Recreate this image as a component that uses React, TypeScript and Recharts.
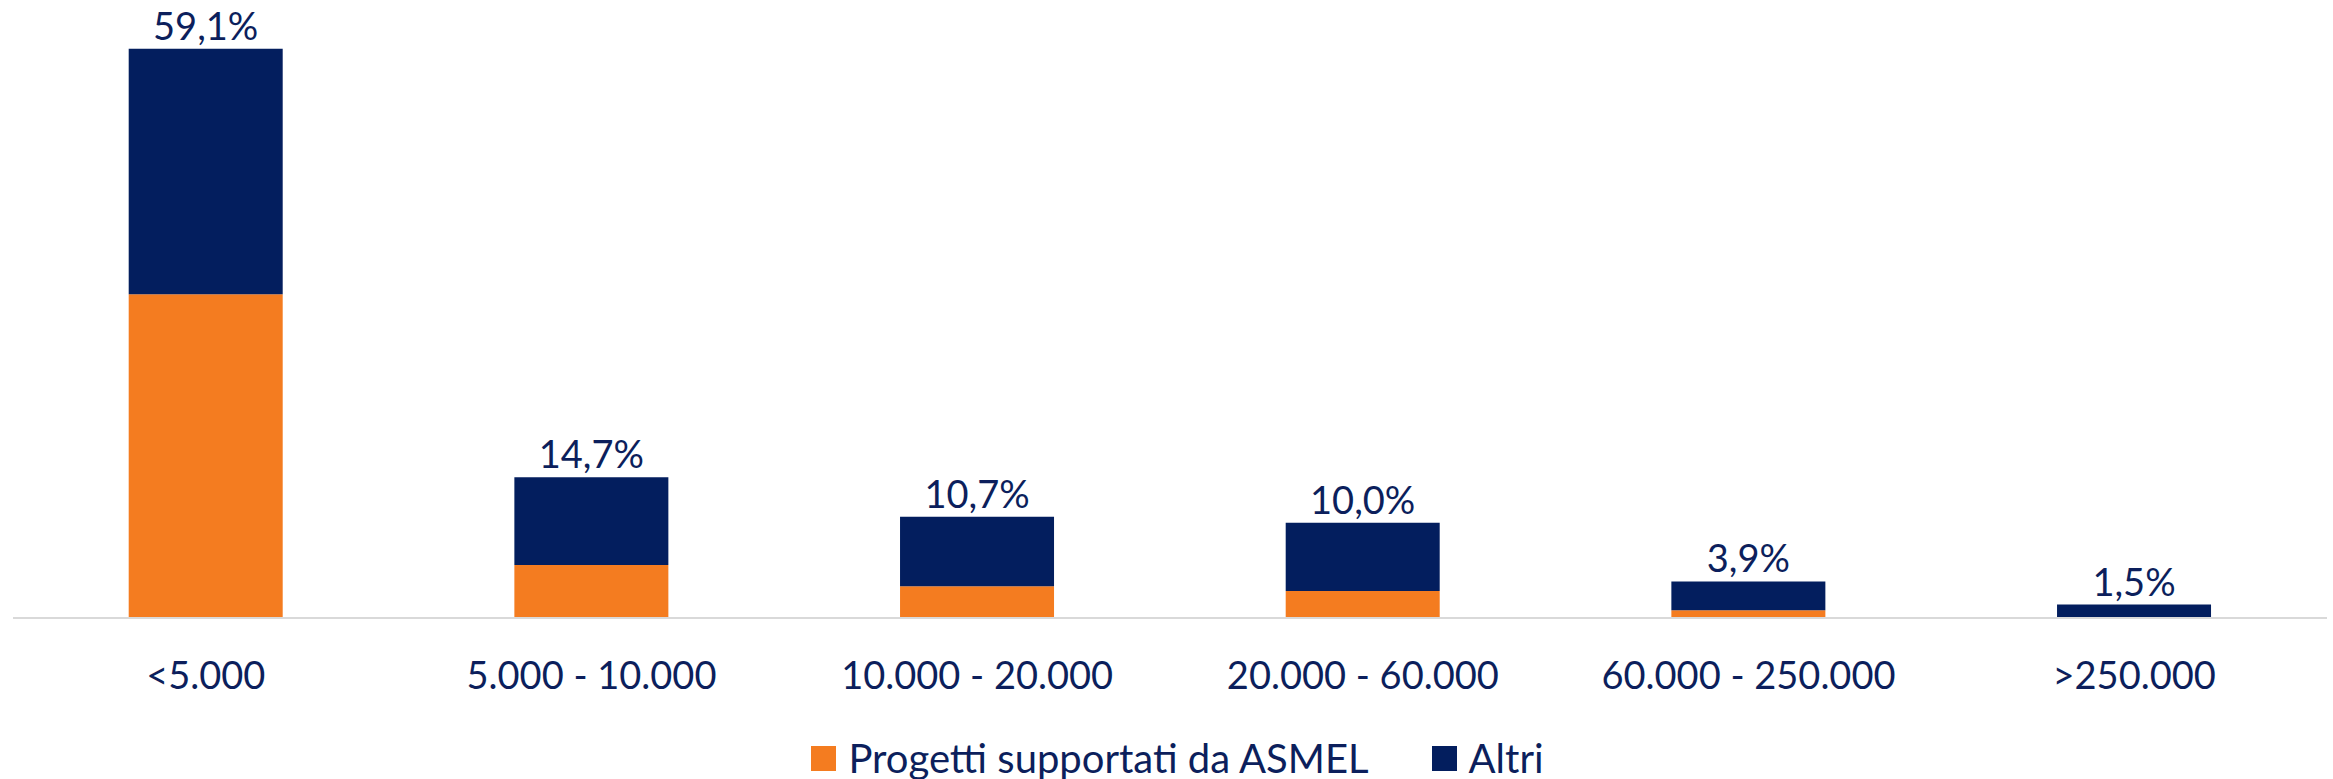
import React from 'react';
import { BarChart, Bar, XAxis, YAxis, Legend, LabelList } from 'recharts';

const categories = ['<5.000', '5.000 - 10.000', '10.000 - 20.000', '20.000 - 60.000', '60.000 - 250.000', '>250.000'];
const asmelValues = [33.6, 5.5, 3.3, 2.8, 0.8, 0.1];
const altriValues = [25.5, 9.1, 7.2, 7.1, 3.0, 1.3];
const totalLabels = [59.1, 14.7, 10.7, 10.0, 3.9, 1.5];

const seriesNames = { asmel: 'Progetti supportati da ASMEL', altri: 'Altri' };
const legendOrder = ['asmel', 'altri'];

const data = categories.map((c, i) => ({
  name: c,
  asmel: asmelValues[i],
  altri: altriValues[i],
  total: totalLabels[i],
}));

const NAVY = '#031E5E';
const ORANGE = '#F47C20';
const TEXT = '#0C1F5C';
const FONT = 'Lato, "Noto Sans", sans-serif';

const fmt = (v: any) => `${Number(v).toFixed(1).replace('.', ',')}%`;

const renderLegend = (props: any) => {
  const payload = [...(props.payload || [])].sort(
    (a: any, b: any) => legendOrder.indexOf(a.dataKey) - legendOrder.indexOf(b.dataKey)
  );
  return (
    <div
      style={{
        display: 'flex',
        justifyContent: 'center',
        alignItems: 'center',
        paddingTop: 19,
        paddingLeft: 22,
        fontFamily: FONT,
        fontSize: 40,
        color: TEXT,
        lineHeight: '40px',
      }}
    >
      {payload.map((p: any, i: number) => (
        <div key={i} style={{ display: 'flex', alignItems: 'center', marginRight: i < payload.length - 1 ? 63 : 0 }}>
          <span style={{ display: 'inline-block', width: 25, height: 25, background: p.color, marginRight: 12 }} />
          <span>{p.value}</span>
        </div>
      ))}
    </div>
  );
};

export default function App() {
  return (
    <div style={{ position: 'absolute', left: 0, top: 0, width: 2333, height: 779, background: '#fff' }}>
      <BarChart
        width={2333}
        height={779}
        data={data}
        margin={{ top: 40, right: 6, bottom: 0, left: 13 }}
        barCategoryGap="30%"
      >
        <XAxis
          dataKey="name"
          axisLine={{ stroke: '#D9D9D9', strokeWidth: 2 }}
          tickLine={false}
          tickSize={0}
          tickMargin={44}
          height={101}
          interval={0}
          tick={{ fill: TEXT, fontSize: 38, fontFamily: FONT }}
        />
        <YAxis hide domain={[0, 60]} allowDataOverflow />
        <Legend
          verticalAlign="bottom"
          content={renderLegend}
          wrapperStyle={{ height: 60, left: 0, bottom: 0, width: 2333 }}
        />
        <Bar dataKey="asmel" name={seriesNames.asmel} stackId="a" fill={ORANGE} isAnimationActive={false} />
        <Bar dataKey="altri" name={seriesNames.altri} stackId="a" fill={NAVY} isAnimationActive={false}>
          <LabelList
            dataKey="total"
            position="top"
            offset={9}
            formatter={fmt}
            fill={TEXT}
            fontSize={38}
            fontFamily={FONT}
          />
        </Bar>
      </BarChart>
    </div>
  );
}
